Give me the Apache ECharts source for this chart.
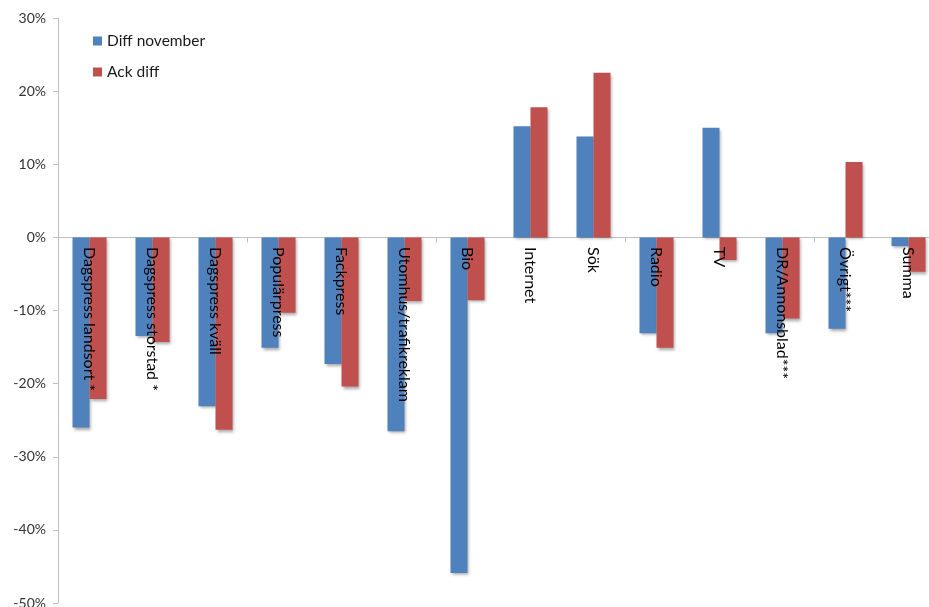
<!DOCTYPE html>
<html>
<head>
<meta charset="utf-8">
<script src="https://cdn.jsdelivr.net/npm/echarts@6/dist/echarts.min.js"></script>
<style>html,body{margin:0;padding:0;background:#fff;}#c{width:929px;height:607px;}</style>
</head>
<body>
<div id="c"></div>
<script>
var categories = ["Dagspress landsort *", "Dagspress storstad *", "Dagspress kväll", "Populärpress", "Fackpress", "Utomhus/trafikreklam", "Bio", "Internet", "Sök", "Radio", "TV", "DR/Annonsblad***", "Övrigt***", "Summa"];
var diffNovember = [-26.0, -13.5, -23.1, -15.1, -17.3, -26.5, -45.9, 15.2, 13.8, -13.1, 15.0, -13.1, -12.5, -1.2];
var ackDiff = [-22.1, -14.3, -26.3, -10.3, -20.4, -8.7, -8.6, 17.8, 22.5, -15.1, -3.1, -11.1, 10.3, -4.7];
var seriesNames = ["Diff november", "Ack diff"];

var chart = echarts.init(document.getElementById('c'));
var shadow = {shadowColor: 'rgba(0,0,0,0.35)', shadowBlur: 3, shadowOffsetX: 1, shadowOffsetY: 2};
chart.setOption({
  animation: false,
  textStyle: {fontFamily: 'Lato, "Open Sans", sans-serif'},
  legend: {
    orient: 'vertical', left: 88, top: 28, itemWidth: 9, itemHeight: 9, itemGap: 15,
    icon: 'rect',
    textStyle: {fontSize: 15.5, color: '#1a1a1a'},
    data: seriesNames
  },
  grid: {left: 58, top: 18, bottom: 4, right: -11, containLabel: false, outerBoundsMode: 'none'},
  xAxis: [{
    type: 'category', data: categories,
    axisLine: {onZero: true, lineStyle: {color: '#bfbfbf'}},
    axisTick: {show: true, length: 5, lineStyle: {color: '#bfbfbf'}},
    axisLabel: {show: false}
  }, {
    type: 'category', data: categories, position: 'bottom', offset: -366, z: 10,
    axisLine: {show: false}, axisTick: {show: false},
    axisLabel: {interval: 0, rotate: -90, margin: 10, fontSize: 16, color: '#000'}
  }],
  yAxis: {
    type: 'value', min: -50, max: 30, interval: 10,
    axisLine: {show: true, lineStyle: {color: '#bfbfbf'}},
    axisTick: {show: true, length: 5, lineStyle: {color: '#bfbfbf'}},
    splitLine: {show: false},
    axisLabel: {formatter: '{value}%', fontSize: 14, color: '#333', margin: 12}
  },
  series: [
    {name: seriesNames[0], type: 'bar', xAxisIndex: 0, data: diffNovember, barWidth: 17, barGap: '0%',
     itemStyle: Object.assign({color: '#4f81bd'}, shadow)},
    {name: seriesNames[1], type: 'bar', xAxisIndex: 0, data: ackDiff, barWidth: 17, barGap: '0%',
     itemStyle: Object.assign({color: '#c0504d'}, shadow)}
  ]
});
</script>
</body>
</html>
